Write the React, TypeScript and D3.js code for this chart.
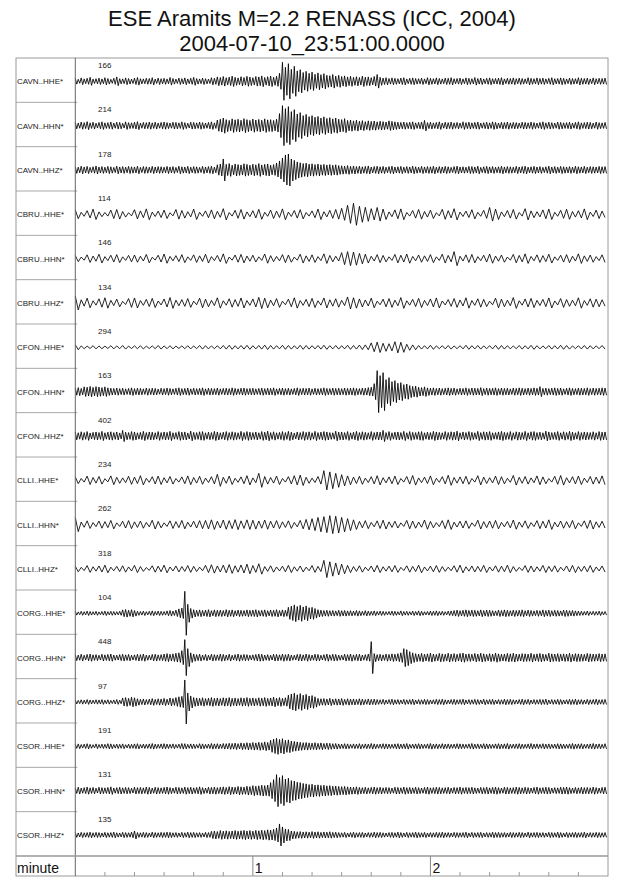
import * as d3 from "d3";

// station/channel rows, top to bottom
const channels = [
  "CAVN..HHE*", "CAVN..HHN*", "CAVN..HHZ*",
  "CBRU..HHE*", "CBRU..HHN*", "CBRU..HHZ*",
  "CFON..HHE*", "CFON..HHN*", "CFON..HHZ*",
  "CLLI..HHE*", "CLLI..HHN*", "CLLI..HHZ*",
  "CORG..HHE*", "CORG..HHN*", "CORG..HHZ*",
  "CSOR..HHE*", "CSOR..HHN*", "CSOR..HHZ*",
];
// peak counts printed above each trace
const peakCounts = [166, 214, 178, 114, 146, 134, 294, 163, 402, 234, 262, 318, 104, 448, 97, 191, 131, 135];

// min/max envelope per time bin (bins span the 3 minute window evenly;
// 180 values = 1 s bins, 90 values = 2 s bins)
const cavnHHE = [
  14,10,17,12,15,20,11,13,16,12,18,14,10,15,22,13,12,17,14,11,16,19,13,12,15,14,18,11,16,13,
  15,12,19,14,11,16,13,17,12,15,20,14,12,16,13,11,18,15,22,19,24,18,21,26,20,17,23,19,25,21,
  18,24,22,27,19,23,26,20,25,40,95,70,88,60,75,52,58,44,50,40,46,35,42,33,38,30,28,34,26,30,
  24,27,22,25,20,23,19,26,21,22,18,24,34,20,16,18,14,17,15,13,16,18,12,15,17,14,13,16,12,18,
  15,13,17,14,12,16,15,18,13,14,16,12,17,15,13,19,14,16,12,15,17,13,14,16,18,12,15,14,17,13,
  16,14,12,18,15,13,17,14,16,12,15,18,13,14,17,15,12,16,14,13,18,15,14,16,12,17,13,15,14,16,
];
const cavnHHN = [
  16,13,18,15,20,14,17,12,16,19,14,15,18,13,17,16,12,19,15,14,17,20,13,16,15,18,14,17,13,16,
  18,15,13,17,16,14,19,15,12,17,16,14,18,15,13,16,19,14,28,32,38,30,26,34,29,32,27,35,30,26,
  33,28,31,27,34,29,30,26,32,60,100,85,95,70,80,58,65,50,56,45,50,42,46,38,44,36,40,34,38,32,
  30,35,26,28,24,27,22,25,20,24,21,23,19,22,20,18,24,21,19,17,16,18,15,17,19,14,16,18,26,15,
  17,14,16,19,13,17,15,18,14,16,13,19,15,17,14,16,18,13,15,17,14,19,16,13,17,15,18,14,16,15,
  13,17,16,14,18,15,13,16,19,14,17,15,13,18,16,14,15,17,13,16,19,14,15,17,16,13,18,15,14,16,
];
const cavnHHZ = [
  17,14,19,15,18,13,16,20,15,17,14,18,16,13,19,15,17,14,18,16,15,19,13,17,16,14,18,15,17,16,
  14,18,15,17,13,19,16,15,18,14,17,16,13,18,15,17,19,14,26,30,55,28,32,24,30,27,25,31,28,24,
  29,26,32,25,28,30,24,27,35,45,60,75,80,55,48,40,36,32,34,29,31,27,30,26,28,25,27,24,26,22,
  21,19,22,18,20,17,19,16,18,20,15,17,19,16,18,14,17,19,15,16,18,14,17,15,19,16,14,18,15,17,
  16,19,14,17,15,18,16,13,17,19,15,16,14,18,17,15,19,13,16,18,15,17,14,16,19,15,17,16,14,18,
  15,17,19,14,16,18,15,17,13,16,19,15,17,14,18,16,15,17,14,19,16,15,18,14,17,16,15,18,16,17,
];
const cbruHHE = [
  22,10,18,26,12,9,21,24,14,8,23,17,27,11,16,21,8,24,19,13,26,10,17,22,15,28,9,20,24,12,
  18,25,10,21,16,27,11,19,23,9,17,26,13,20,24,30,45,55,40,35,28,34,26,12,22,27,9,19,24,14,
  21,8,25,18,28,11,16,23,10,20,34,26,12,19,24,9,28,17,13,22,26,10,20,25,14,18,27,11,21,16,
];
const cbruHHN = [
  15,8,19,13,22,10,17,20,9,16,18,12,21,7,17,23,11,15,20,9,19,14,22,10,16,24,8,18,21,13,
  17,9,23,15,11,20,18,8,22,14,19,10,24,16,12,30,35,33,26,22,12,20,16,9,21,17,23,11,18,14,
  20,9,22,16,35,12,19,21,10,17,23,13,18,8,21,16,24,11,19,15,22,9,17,20,12,24,14,18,10,19,
];
const cbruHHZ = [
  35,16,24,11,21,26,13,19,8,22,25,12,18,23,10,20,27,14,17,22,9,24,19,13,26,11,21,17,25,12,
  20,28,24,14,22,9,19,26,12,18,23,11,25,16,21,13,30,26,20,15,24,9,19,22,14,27,11,18,23,13,
  20,25,10,17,22,15,26,12,21,18,9,24,19,14,27,11,20,23,13,18,25,10,22,17,14,26,12,21,19,16,
];
const cfonHHE = [12,7,6,8,7,6,8,7,9,6,7,8,6,7,9,7,8,6,7,8,7,9,8,7,8,9,10,8,9,10,8,9,11,9,8,10,9,8,10,9,8,9,10,8,9,8,10,9,11,12,22,26,20,18,28,25,15,12,9,8,10,7,8,9,7,8,10,8,9,7,8,10,9,8,7,9,8,10,8,7,9,8,10,9,7,8,9,8,7,9];
const cfonHHN = [
  18,20,16,24,22,26,21,25,23,20,24,19,17,16,18,15,17,14,16,19,15,17,16,14,18,15,17,16,13,17,
  15,18,16,14,17,19,15,16,18,14,17,15,16,19,14,17,16,15,18,14,16,17,15,19,16,14,17,18,15,16,
  17,14,16,18,15,17,16,19,14,16,18,15,17,14,16,19,15,17,16,18,14,17,15,16,19,16,15,18,16,17,
  15,18,16,17,19,16,15,18,17,20,22,40,105,80,95,60,70,50,55,42,45,35,38,30,26,28,22,20,24,19,
  17,19,16,18,15,17,19,16,18,14,17,16,19,15,18,17,16,20,15,18,16,17,19,15,18,16,17,14,18,16,
  19,17,15,18,16,19,17,25,16,18,15,17,19,16,18,14,17,19,16,15,18,17,16,19,15,18,16,17,19,18,
];
const cfonHHZ = [
  19,16,21,17,22,15,18,20,17,23,16,19,21,17,20,15,28,19,17,22,20,16,18,23,17,20,19,16,22,17,
  20,18,23,16,17,22,19,20,15,24,18,17,21,22,16,19,17,23,20,16,19,22,17,21,18,16,23,17,22,19,
  17,20,16,22,19,24,17,21,16,18,22,17,23,19,15,20,17,22,18,21,16,23,17,19,22,20,17,16,24,19,
  20,17,22,16,19,23,17,21,18,16,22,17,20,19,28,17,22,16,19,20,17,23,16,22,18,17,21,22,16,19,
  17,23,20,18,16,22,17,21,19,24,16,20,17,22,18,16,23,17,21,19,22,16,17,20,23,18,17,22,16,21,
  19,17,23,16,21,22,17,19,16,24,20,17,18,22,16,21,17,23,19,16,22,17,20,18,17,21,16,22,19,20,
];
const clliHHE = [
  17,9,21,14,19,8,22,15,12,20,16,23,10,18,21,13,19,9,17,22,14,20,11,18,30,15,21,10,17,23,
  12,35,19,14,21,9,18,23,26,15,11,19,48,42,35,28,22,16,20,11,18,23,13,17,21,9,19,24,12,16,
  22,10,18,25,14,17,20,9,23,16,13,21,18,10,24,15,19,12,22,17,9,20,24,13,18,21,11,19,16,22,
];
const clliHHN = [
  35,13,19,10,18,15,21,9,17,20,14,18,11,22,16,9,19,15,21,12,17,20,21,24,17,23,20,25,19,24,
  22,18,23,17,20,14,19,11,21,26,30,36,40,45,42,36,30,24,16,20,11,19,22,14,17,9,21,18,13,23,
  16,10,20,24,12,17,19,9,22,15,18,21,11,16,23,13,19,10,20,17,24,12,18,15,21,9,19,22,14,17,
];
const clliHHZ = [
  14,8,17,11,15,19,9,13,16,10,18,12,7,16,14,19,10,15,12,17,13,9,18,21,15,19,22,16,20,24,
  17,26,12,16,10,14,18,11,15,9,17,13,43,36,30,24,18,12,16,9,15,18,11,14,17,8,16,13,19,10,
  14,17,12,9,16,19,11,15,13,18,10,16,14,19,12,8,17,15,11,18,13,16,9,15,18,12,14,17,10,15,
];
const corgHHE = [
  9,7,10,8,11,9,8,10,7,9,11,8,10,9,8,10,17,19,15,18,14,10,9,11,8,10,12,9,11,10,
  9,12,14,11,16,22,26,110,45,24,18,15,17,14,16,18,13,17,15,16,14,18,15,17,13,16,15,14,17,15,
  16,18,14,15,17,13,16,15,18,14,17,15,30,36,42,34,40,32,37,28,30,24,18,16,14,15,13,14,12,15,
  13,14,12,13,11,14,12,10,13,11,10,12,9,11,10,8,9,11,10,8,12,9,10,8,11,9,12,10,8,9,
  11,10,12,9,10,8,11,12,14,16,13,15,17,14,16,15,13,17,14,16,15,13,12,16,14,17,15,13,16,14,
  15,17,13,16,14,12,15,13,17,14,16,13,15,14,12,16,15,13,14,12,11,10,9,11,8,10,9,11,8,9,
];
const corgHHN = [
  15,13,17,12,16,18,14,15,12,17,14,16,18,13,12,15,17,14,16,12,14,17,15,18,13,12,16,17,14,15,
  18,20,17,19,22,24,35,90,45,24,18,15,17,13,16,12,17,15,14,18,16,13,17,12,15,18,14,16,15,12,
  14,16,18,17,13,15,12,17,16,14,18,15,17,13,12,16,17,14,18,15,13,17,16,12,15,18,14,17,16,13,
  12,17,15,18,14,16,17,13,15,18,80,20,15,17,14,18,16,19,17,20,24,45,40,30,24,20,18,21,17,19,
  22,18,16,21,19,17,22,18,20,17,21,23,18,19,17,21,18,22,19,16,20,18,23,19,17,18,21,19,22,18,
  17,20,19,18,22,17,19,21,18,16,22,19,18,20,17,19,18,22,17,20,19,18,16,21,19,18,17,20,18,19,
];
const corgHHZ = [
  10,8,11,9,12,10,9,11,10,12,9,11,8,10,12,9,20,22,18,24,21,16,13,15,12,14,17,13,16,15,
  18,14,20,17,22,26,28,110,45,30,22,20,18,21,17,19,22,18,20,17,21,19,22,18,20,17,21,19,22,18,
  20,17,21,19,22,18,20,24,19,22,18,21,34,40,44,36,42,34,38,30,32,26,18,16,17,15,18,14,16,15,
  17,13,16,14,15,13,16,14,12,15,13,14,12,11,13,10,12,14,11,12,10,13,11,12,14,10,12,11,13,12,
  10,11,13,12,14,11,10,12,13,11,12,14,10,12,11,13,12,10,14,11,12,13,10,12,11,14,12,13,11,10,
  12,14,11,13,10,12,11,13,12,14,10,12,11,13,12,10,11,13,12,14,11,12,10,13,11,12,14,11,12,13,
];
const csorHHE = [
  10,12,9,11,13,10,8,12,9,11,10,13,12,9,11,10,12,8,11,10,12,13,9,11,10,12,14,11,10,12,
  13,11,10,12,9,11,14,13,10,12,11,9,13,12,10,11,14,12,13,11,14,13,15,14,16,13,17,15,18,16,
  19,17,20,18,22,19,30,36,40,34,38,30,32,26,24,22,20,18,19,17,16,18,15,17,14,16,15,13,14,12,
  11,13,12,10,12,11,13,10,12,11,14,12,10,11,13,12,11,10,12,13,11,12,14,10,11,12,13,11,10,12,
  14,11,12,10,13,11,12,10,11,13,12,11,10,12,14,11,12,10,13,12,11,10,12,13,11,12,14,10,11,12,
  13,11,10,12,14,11,12,10,13,11,12,10,11,13,12,11,10,12,14,11,12,13,10,11,12,14,11,12,10,13,
];
const csorHHN = [
  14,17,13,15,18,14,16,12,17,15,14,16,19,13,15,17,14,16,15,12,17,15,16,14,18,16,13,17,15,14,
  16,18,15,13,17,16,14,18,15,17,14,16,19,15,13,17,16,18,15,17,19,16,20,18,17,21,19,18,22,20,
  25,22,24,27,25,28,40,55,80,65,75,58,62,50,48,42,40,36,34,30,32,28,29,26,27,24,25,22,23,21,
  20,21,19,18,17,19,16,15,17,14,16,18,15,17,14,16,15,13,17,16,14,18,15,16,14,17,15,13,16,18,
  14,15,17,16,14,15,17,13,16,15,18,14,16,15,17,14,13,16,15,17,14,16,18,15,13,17,16,14,15,18,
  16,14,17,15,13,16,18,14,15,17,16,13,15,14,17,16,18,15,13,16,14,17,15,16,14,18,15,13,16,17,
];
const csorHHZ = [
  12,10,13,11,12,14,11,13,12,10,13,11,12,14,11,10,13,12,11,14,20,12,11,13,12,10,14,12,11,13,
  12,14,13,11,12,10,13,11,14,12,13,11,12,10,13,12,18,20,17,22,19,21,18,20,22,19,21,23,20,22,
  19,23,21,24,22,26,25,28,35,55,40,30,28,20,18,16,17,15,16,14,17,15,16,13,15,14,16,13,14,12,
  11,13,10,12,14,11,12,13,10,12,11,14,12,13,11,10,12,13,11,14,12,10,13,11,12,14,12,11,13,10,
  12,11,13,12,14,11,12,10,13,12,11,12,14,10,13,11,12,13,10,12,11,14,12,13,11,12,10,13,12,11,
  13,12,10,14,11,12,13,11,12,10,13,12,11,14,12,10,13,11,12,13,11,12,14,10,12,11,13,12,11,12,
];

const traceValues = [
  cavnHHE, cavnHHN, cavnHHZ,
  cbruHHE, cbruHHN, cbruHHZ,
  cfonHHE, cfonHHN, cfonHHZ,
  clliHHE, clliHHN, clliHHZ,
  corgHHE, corgHHN, corgHHZ,
  csorHHE, csorHHN, csorHHZ,
];

// time axis (seconds)
const windowSeconds = [0, 180];
const minuteTicks = [1, 2];
const secondTicks = [10, 20, 30, 40, 50, 70, 80, 90, 100, 110, 130, 140, 150, 160, 170];

const W = 640;
const H = 878;
const frame = { left: 16, right: 608, top: 58, rowsBottom: 856, bottom: 876 };
const plotLeft = 75.3;
const font = "'Liberation Sans', Arial, Helvetica, sans-serif";

export default function App() {
  const x = d3.scaleLinear().domain(windowSeconds).range([plotLeft, frame.right]);
  const row = d3
    .scaleBand<string>()
    .domain(channels)
    .range([frame.top, frame.rowsBottom]);
  const amp = d3.scaleLinear().domain([0, 100]).range([0, 20]);
  const line = d3.line<[number, number]>();

  // min/max pairs per bin, like a decimated seismogram
  const traces = traceValues.map((vals, k) => {
    const base = (row(channels[k]) ?? 0) + 23.3;
    const step = (windowSeconds[1] - windowSeconds[0]) / vals.length;
    const pts: [number, number][] = [];
    vals.forEach((v, i) => {
      const t = windowSeconds[0] + i * step;
      pts.push([x(t), base - amp(v)]);
      pts.push([x(t + step / 2), base + amp(v)]);
    });
    return { base, d: line(pts) ?? "" };
  });

  return (
    <div style={{ position: "absolute", left: 0, top: 0 }}>
      <svg width={W} height={H} viewBox={`0 0 ${W} ${H}`} style={{ display: "block", background: "#fff" }}>
        <g fontFamily={font} fill="#111" textAnchor="middle" fontSize={22}>
          <text x={312} y={26}>ESE Aramits M=2.2 RENASS (ICC, 2004)</text>
          <text x={312} y={51}>2004-07-10_23:51:00.0000</text>
        </g>

        {/* row separators in the label column */}
        {channels.map((c, k) =>
          k === 0 ? null : (
            <line
              key={`sep-${c}`}
              x1={frame.left}
              x2={plotLeft + 2}
              y1={row(c)}
              y2={row(c)}
              stroke="#a8a8a8"
              strokeWidth={1}
            />
          ),
        )}

        {/* traces */}
        <g fill="none" stroke="#000" strokeWidth={0.85} strokeLinejoin="round">
          {traces.map((t, k) => (
            <path key={`tr-${channels[k]}`} d={t.d} />
          ))}
        </g>

        {/* channel labels and peak counts */}
        <g fontFamily={font} fill="#222">
          {channels.map((c, k) => (
            <g key={`lab-${c}`}>
              <text x={17} y={traces[k].base + 3} fontSize={8}>
                {c}
              </text>
              <text x={98} y={(row(c) ?? 0) + 10} fontSize={8}>
                {peakCounts[k]}
              </text>
            </g>
          ))}
        </g>

        {/* frame */}
        <rect
          x={frame.left}
          y={frame.top}
          width={frame.right - frame.left}
          height={frame.bottom - frame.top}
          fill="none"
          stroke="#9a9a9a"
          strokeWidth={1}
        />
        <line x1={plotLeft} x2={plotLeft} y1={frame.top} y2={frame.bottom} stroke="#666" strokeWidth={1} />
        <line x1={frame.left} x2={frame.right} y1={frame.rowsBottom} y2={frame.rowsBottom} stroke="#9a9a9a" strokeWidth={1.5} />

        {/* minute axis */}
        <g fontFamily={font} fill="#111">
          <text x={17} y={873} fontSize={14}>
            minute
          </text>
          {secondTicks.map((s) => (
            <line key={`st-${s}`} x1={x(s)} x2={x(s)} y1={frame.bottom} y2={frame.bottom - 4} stroke="#999" />
          ))}
          {minuteTicks.map((m) => (
            <g key={`mt-${m}`}>
              <line x1={x(m * 60)} x2={x(m * 60)} y1={frame.rowsBottom} y2={frame.bottom} stroke="#888" />
              <text x={x(m * 60) + 2} y={873} fontSize={14}>
                {m}
              </text>
            </g>
          ))}
        </g>
      </svg>
    </div>
  );
}
